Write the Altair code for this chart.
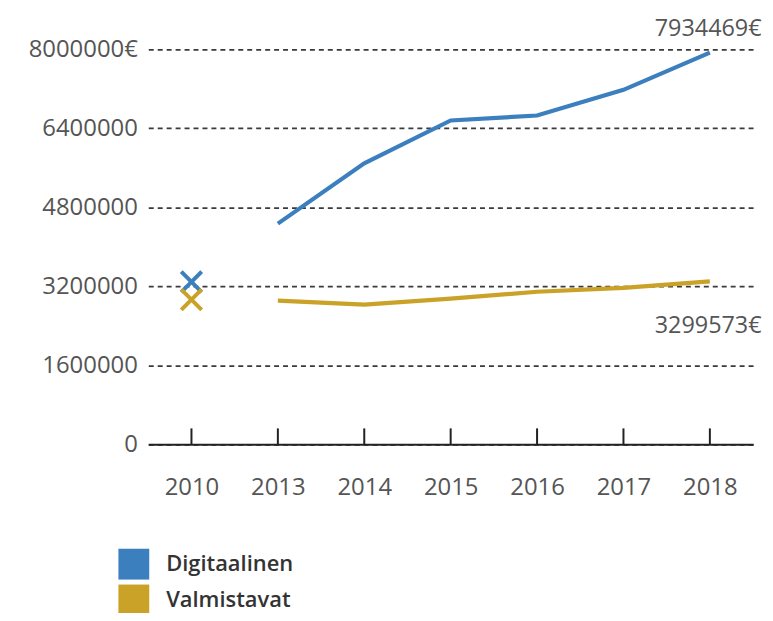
import altair as alt
import pandas as pd

years = ["2013", "2014", "2015", "2016", "2017", "2018"]
all_years = ["2010", "2013", "2014", "2015", "2016", "2017", "2018"]
digitaalinen = [4470000, 5690000, 6560000, 6660000, 7180000, 7934469]
valmistavat = [2910000, 2830000, 2950000, 3090000, 3170000, 3299573]
series = ["Digitaalinen", "Valmistavat"]
start_2010 = [3290000, 2930000]
y_ticks = [0, 1600000, 3200000, 4800000, 6400000, 8000000]
colors = ["#3b7fbe", "#c9a227"]

FONT = "Open Sans"

lines_df = pd.DataFrame(
    {"year": years * 2,
     "value": digitaalinen + valmistavat,
     "series": [series[0]] * len(years) + [series[1]] * len(years)}
)
start_df = pd.DataFrame({"year": ["2010", "2010"], "value": start_2010, "series": series})
ticks_df = pd.DataFrame({"year": all_years})
ann_top = pd.DataFrame({"year": ["2018"], "value": [digitaalinen[-1]], "label": ["7934469€"]})
ann_bot = pd.DataFrame({"year": ["2018"], "value": [valmistavat[-1]], "label": ["3299573€"]})

x_enc = alt.X("year:O", sort=all_years,
              scale=alt.Scale(type="point", padding=0.5, domain=all_years),
              axis=alt.Axis(title=None, labelAngle=0, labelAlign="center", tickSize=0,
                            labelPadding=31,
                            labelFont=FONT, labelFontSize=24, labelColor="#555555",
                            labelBaseline="top",
                            domainColor="#222222", domainWidth=2, grid=False))
y_enc = alt.Y("value:Q",
              scale=alt.Scale(domain=[0, 8000000], nice=False),
              axis=alt.Axis(title=None, values=y_ticks, tickSize=0, labelPadding=11,
                            labelFont=FONT, labelFontSize=24, labelColor="#555555",
                            labelExpr="datum.value == 8000000 ? '8000000€' : format(datum.value, 'd')",
                            domain=False, grid=True, gridColor="#3a3a3a",
                            gridDash=[5, 4], gridWidth=1.8))

color_scale = alt.Scale(domain=series, range=colors)

legend_layer = alt.Chart(start_df).mark_square(size=1, opacity=1).encode(
    x=alt.X("year:O", sort=all_years),
    y=alt.Y("value:Q"),
    fill=alt.Fill("series:N", scale=alt.Scale(domain=series, range=colors), sort=series,
                  legend=alt.Legend(title=None, orient="none", legendX=-30, legendY=502,
                                    symbolType="square", symbolSize=961,
                                    symbolStrokeWidth=0, symbolOpacity=1,
                                    labelFont=FONT, labelFontSize=22,
                                    labelFontWeight=600, labelColor="#333333",
                                    labelOffset=17, rowPadding=5, padding=0,
                                    labelLimit=300)),
)

lines = alt.Chart(lines_df).mark_line(strokeWidth=4.2).encode(
    x=x_enc, y=y_enc,
    stroke=alt.Stroke("series:N", scale=color_scale, sort=series, legend=None),
)

markers = alt.Chart(start_df).mark_point(
    shape="M-1,-1L1,1M-1,1L1,-1", filled=False, strokeWidth=4, size=420, opacity=1
).encode(
    x=alt.X("year:O", sort=all_years),
    y=alt.Y("value:Q"),
    stroke=alt.Stroke("series:N", scale=color_scale, sort=series, legend=None),
)

tick_rules = alt.Chart(ticks_df).mark_rule(color="#222222", strokeWidth=2).encode(
    x=alt.X("year:O", sort=all_years),
    y=alt.value(397),
    y2=alt.value(381),
)

text_top = alt.Chart(ann_top).mark_text(
    align="right", baseline="alphabetic", dx=52, dy=-17,
    font=FONT, fontSize=23.5, color="#555555"
).encode(x=alt.X("year:O", sort=all_years), y="value:Q", text="label:N")

text_bot = alt.Chart(ann_bot).mark_text(
    align="right", baseline="alphabetic", dx=52, dy=52,
    font=FONT, fontSize=23.5, color="#555555"
).encode(x=alt.X("year:O", sort=all_years), y="value:Q", text="label:N")

chart = alt.layer(tick_rules, legend_layer, lines, markers, text_top, text_bot).properties(
    width=608, height=397,
    background="white",
    autosize=alt.AutoSizeParams(type="none"),
    padding={"left": 141, "top": 40, "right": 12, "bottom": 168},
).configure_view(stroke=None, strokeWidth=0)

chart.save("out.html", embed_options={"renderer": "svg", "actions": False})
